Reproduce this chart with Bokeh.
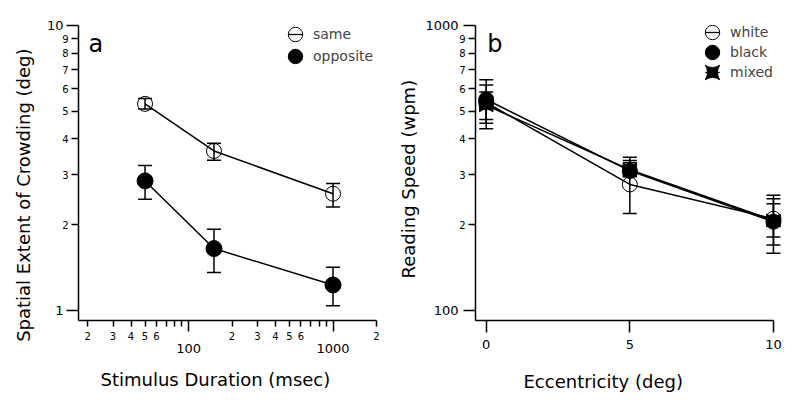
import math
from bokeh.plotting import figure
from bokeh.models import (Range1d, FixedTicker, LogAxis, Whisker, TeeHead,
                          ColumnDataSource, Legend, LegendItem, Label, Title)
from bokeh.layouts import row
from bokeh.transform import dodge
from bokeh.embed import file_html
from bokeh.resources import INLINE

FONT = "DejaVu Sans"

# ---------------- panel a : crowding vs duration ----------------
durations = [50, 150, 1000]
same_mean = [5.31, 3.63, 2.57]
same_upper = [5.54, 3.86, 2.79]
same_lower = [5.09, 3.37, 2.31]
opposite_mean = [2.85, 1.65, 1.23]
opposite_upper = [3.23, 1.93, 1.42]
opposite_lower = [2.46, 1.36, 1.04]

a_x_ticks = [20, 30, 40, 50, 60, 70, 80, 90, 200, 300, 400, 500, 600, 700, 800, 900, 2000]
a_x_tick_labels = ["2", "3", "4", "5", "6", "", "", "", "2", "3", "4", "5", "6", "", "", "", "2"]
a_x_decades = [100, 1000]
a_x_decade_labels = ["100", "1000"]
a_y_ticks = [2, 3, 4, 5, 6, 7, 8, 9]
a_y_tick_labels = ["2", "3", "4", "5", "6", "7", "8", "9"]
a_y_decades = [1, 10]
a_y_decade_labels = ["1", "10"]

# ---------------- panel b : reading speed vs eccentricity ----------------
eccentricity = [0, 5, 10]
white_mean = [537, 277, 210]
white_upper = [645, 345, 254]
white_lower = [434, 219, 170]
black_mean = [550, 309, 205]
black_upper = [618, 336, 247]
black_lower = [468, 295, 159]
mixed_mean = [525, 312, 207]
mixed_upper = [585, 330, 237]
mixed_lower = [454, 296, 181]

b_x_ticks = [0, 5, 10]
b_y_ticks = [200, 300, 400, 500, 600, 700, 800, 900]
b_y_tick_labels = ["2", "3", "4", "5", "6", "7", "8", "9"]
b_y_decades = [100, 1000]
b_y_decade_labels = ["100", "1000"]


def base_style(p):
    p.outline_line_color = None
    p.xgrid.visible = False
    p.ygrid.visible = False
    p.background_fill_color = "white"
    p.border_fill_color = "white"
    p.title.visible = False


def style_axis(ax, ticks, labels, decades, tick_out, long_out, standoff, size="10px"):
    ax.ticker = FixedTicker(ticks=ticks, minor_ticks=decades)
    ax.major_label_overrides = {t: l for t, l in zip(ticks, labels)}
    ax.axis_line_width = 1.5
    ax.axis_line_color = "black"
    ax.major_tick_in = 0
    ax.major_tick_out = tick_out
    ax.major_tick_line_width = 1.5
    ax.major_tick_line_color = "black"
    ax.minor_tick_in = 0
    ax.minor_tick_out = long_out
    ax.minor_tick_line_width = 1.5
    ax.minor_tick_line_color = "black"
    ax.major_label_text_font = FONT
    ax.major_label_text_font_size = size
    ax.major_label_text_color = "black"
    ax.major_label_standoff = standoff


def spacer(ax, gap, size):
    # empty axis label used only to leave room before the axis title
    ax.axis_label = " "
    ax.axis_label_text_font_size = size
    ax.axis_label_standoff = gap


def outer_axis(decades, labels, standoff):
    return LogAxis(ticker=FixedTicker(ticks=decades, minor_ticks=[]),
                   major_label_overrides={t: l for t, l in zip(decades, labels)},
                   axis_line_color=None, major_tick_line_color=None,
                   minor_tick_line_color=None, major_tick_in=0, major_tick_out=0,
                   minor_tick_in=0, minor_tick_out=0,
                   major_label_text_font=FONT, major_label_text_font_size="13px",
                   major_label_text_color="black", major_label_standoff=standoff)


def title(text, align, offset, standoff):
    return Title(text=text, align=align, offset=offset, standoff=standoff,
                 text_font=FONT, text_font_size="18px", text_font_style="normal",
                 text_color="black")


def whiskers(p, x, upper, lower):
    src = ColumnDataSource(dict(x=x, hi=upper, lo=lower))
    w = Whisker(source=src, base="x", upper="hi", lower="lo", dimension="height",
                line_width=1.5, line_color="black",
                upper_head=TeeHead(size=14, line_width=1.5, line_color="black"),
                lower_head=TeeHead(size=14, line_width=1.5, line_color="black"))
    p.add_layout(w)


def one_legend(p, label, renderers, vx, vy):
    p.add_layout(Legend(items=[LegendItem(label=label, renderers=renderers)],
                        location=(vx, vy), glyph_width=36, glyph_height=36,
                        padding=0, margin=0, border_line_color=None,
                        background_fill_alpha=0, label_text_font=FONT,
                        label_text_font_size="14px", label_standoff=0,
                        label_height=20))


def panel_letter(p, letter, x, y):
    p.add_layout(Label(x=x, y=y, x_units="screen", y_units="screen", text=letter,
                       text_font=FONT, text_font_size="24px",
                       text_baseline="alphabetic", text_color="black"))


# ================= figure a =================
p1 = figure(width=390, height=392, x_axis_type="log", y_axis_type="log",
            x_range=Range1d(17.31, 2000), y_range=Range1d(0.923, 10),
            min_border_left=78, min_border_right=14, min_border_top=25, min_border_bottom=69,
            output_backend="svg", toolbar_location=None)
base_style(p1)
style_axis(p1.xaxis[0], a_x_ticks, a_x_tick_labels, a_x_decades, 6, 11, 0)
style_axis(p1.yaxis[0], a_y_ticks, a_y_tick_labels, a_y_decades, 7, 12, -2)
ox1 = outer_axis(a_x_decades, a_x_decade_labels, 1)
spacer(ox1, 0, "7px")
p1.add_layout(ox1, "below")
p1.add_layout(outer_axis(a_y_decades, a_y_decade_labels, -4), "left")
p1.add_layout(title("Stimulus Duration (msec)", "left", 22, 2), "below")
p1.add_layout(title("Spatial Extent of Crowding (deg)", "right", 23, 20), "left")

whiskers(p1, durations, same_upper, same_lower)
whiskers(p1, durations, opposite_upper, opposite_lower)
p1.line(durations, same_mean, line_color="black", line_width=1.5)
c_same = p1.scatter(durations, same_mean, marker="circle", size=15,
                    line_color="black", line_width=1, fill_color=None)
d_same = p1.scatter(durations, same_mean, marker="dash", size=0,
                    line_color="black", line_width=1.3)
p1.line(durations, opposite_mean, line_color="black", line_width=1.5)
c_opp = p1.scatter(durations, opposite_mean, marker="circle", size=16,
                   line_color="black", fill_color="black")
d_opp = p1.scatter(durations, opposite_mean, marker="dash", size=0,
                   line_color="black", line_width=1.3)

one_legend(p1, "same", [c_same, d_same], 199, 268)
one_legend(p1, "opposite", [c_opp, d_opp], 199, 246)
panel_letter(p1, "a", 10, 277)

# ================= figure b =================
p2 = figure(width=402, height=392, y_axis_type="log",
            x_range=Range1d(-0.373, 10.35), y_range=Range1d(92.3, 1000),
            min_border_left=85, min_border_right=9, min_border_top=23, min_border_bottom=72,
            output_backend="svg", toolbar_location=None)
base_style(p2)
xa = p2.xaxis[0]
style_axis(xa, b_x_ticks, [str(t) for t in b_x_ticks], [], 12, 0, 7, "13px")
xa.bounds = (-0.373, 10)
spacer(xa, 2, "10px")
style_axis(p2.yaxis[0], b_y_ticks, b_y_tick_labels, b_y_decades, 7, 12, -2)
p2.add_layout(outer_axis(b_y_decades, b_y_decade_labels, -2), "left")
p2.add_layout(title("Eccentricity (deg)", "left", 48, 2), "below")
p2.add_layout(title("Reading Speed (wpm)", "left", 42, 8), "left")

whiskers(p2, eccentricity, white_upper, white_lower)
whiskers(p2, eccentricity, black_upper, black_lower)
whiskers(p2, eccentricity, mixed_upper, mixed_lower)
p2.line(eccentricity, white_mean, line_color="black", line_width=1.5)
p2.line(eccentricity, black_mean, line_color="black", line_width=1.5)
p2.line(eccentricity, mixed_mean, line_color="black", line_width=1.5)
c_white = p2.scatter(eccentricity, white_mean, marker="circle", size=15,
                     line_color="black", line_width=1, fill_color=None)
d_white = p2.scatter(eccentricity, white_mean, marker="dash", size=0,
                     line_color="black", line_width=1.3)
c_black = p2.scatter(eccentricity, black_mean, marker="circle", size=15,
                     line_color="black", fill_color="black")
d_black = p2.scatter(eccentricity, black_mean, marker="dash", size=0,
                     line_color="black", line_width=1.3)
mixed_src = ColumnDataSource(dict(x=eccentricity, y=mixed_mean))
p2.scatter(dodge("x", -0.1045), "y", source=mixed_src, marker="triangle", size=13,
           angle=-math.pi / 2, line_color="black", fill_color="black")
p2.scatter(dodge("x", 0.1045), "y", source=mixed_src, marker="triangle", size=13,
           angle=math.pi / 2, line_color="black", fill_color="black")
k_mixed = p2.scatter("x", "y", source=mixed_src, marker="square_pin", size=0,
                     line_color="black", fill_color="black")
d_mixed = p2.scatter("x", "y", source=mixed_src, marker="dash", size=0,
                     line_color="black", line_width=1.3)

one_legend(p2, "white", [c_white, d_white], 219, 270)
one_legend(p2, "black", [c_black, d_black], 219, 250)
one_legend(p2, "mixed", [k_mixed, d_mixed], 219, 230)
panel_letter(p2, "b", 11.7, 276.7)

layout = row(p1, p2)
open("out.html", "w").write(file_html(layout, INLINE))
